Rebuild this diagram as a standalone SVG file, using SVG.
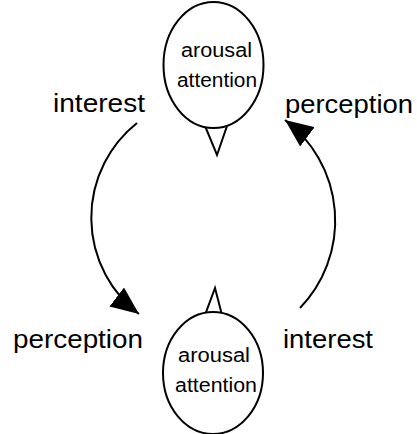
<svg xmlns="http://www.w3.org/2000/svg" width="417" height="434" viewBox="0 0 417 434">
<style>
.node{fill:#fff;stroke:#000;stroke-width:2}
.tail{fill:#fff;stroke:#000;stroke-width:2;stroke-linejoin:miter}
.nt{font-family:"Liberation Sans",Arial,sans-serif;font-size:20px;fill:#000}
.lbl{font-family:"Liberation Sans",Arial,sans-serif;font-size:26px;fill:#000}
.edge{fill:none;stroke:#000;stroke-width:2}
</style>
<defs>
<marker id="ah" markerUnits="userSpaceOnUse" markerWidth="30" markerHeight="24" viewBox="0 0 30 24" refX="28" refY="12" orient="auto">
<path d="M0,0 L28,12 L0,24 Z" fill="#000"/>
</marker>
</defs>
<rect width="417" height="434" fill="#fff"/>
<g id="connectors">
<path class="edge" d="M137,123 A121,121 0 0 0 139,314" marker-end="url(#ah)"/>
<path class="edge" d="M300,308 A126,126 0 0 0 285,120" marker-end="url(#ah)"/>
</g>
<g id="node-top">
<polygon class="tail" points="205,126 227,126 217,155"/>
<ellipse class="node" cx="213.5" cy="65" rx="50" ry="63"/>
<text class="nt" x="181" y="57" textLength="71" lengthAdjust="spacingAndGlyphs">arousal</text>
<text class="nt" x="177" y="87" textLength="80" lengthAdjust="spacingAndGlyphs">attention</text>
</g>
<g id="node-bottom">
<polygon class="tail" points="205,315 222,315 215,288"/>
<ellipse class="node" cx="213" cy="373" rx="50" ry="61"/>
<text class="nt" x="178" y="362" textLength="72" lengthAdjust="spacingAndGlyphs">arousal</text>
<text class="nt" x="175" y="392" textLength="82" lengthAdjust="spacingAndGlyphs">attention</text>
</g>
<g id="labels">
<text class="lbl" x="53" y="112" textLength="92" lengthAdjust="spacingAndGlyphs">interest</text>
<text class="lbl" x="285" y="113" textLength="128" lengthAdjust="spacingAndGlyphs">perception</text>
<text class="lbl" x="13" y="348" textLength="130" lengthAdjust="spacingAndGlyphs">perception</text>
<text class="lbl" x="283" y="348" textLength="90" lengthAdjust="spacingAndGlyphs">interest</text>
</g>
</svg>
